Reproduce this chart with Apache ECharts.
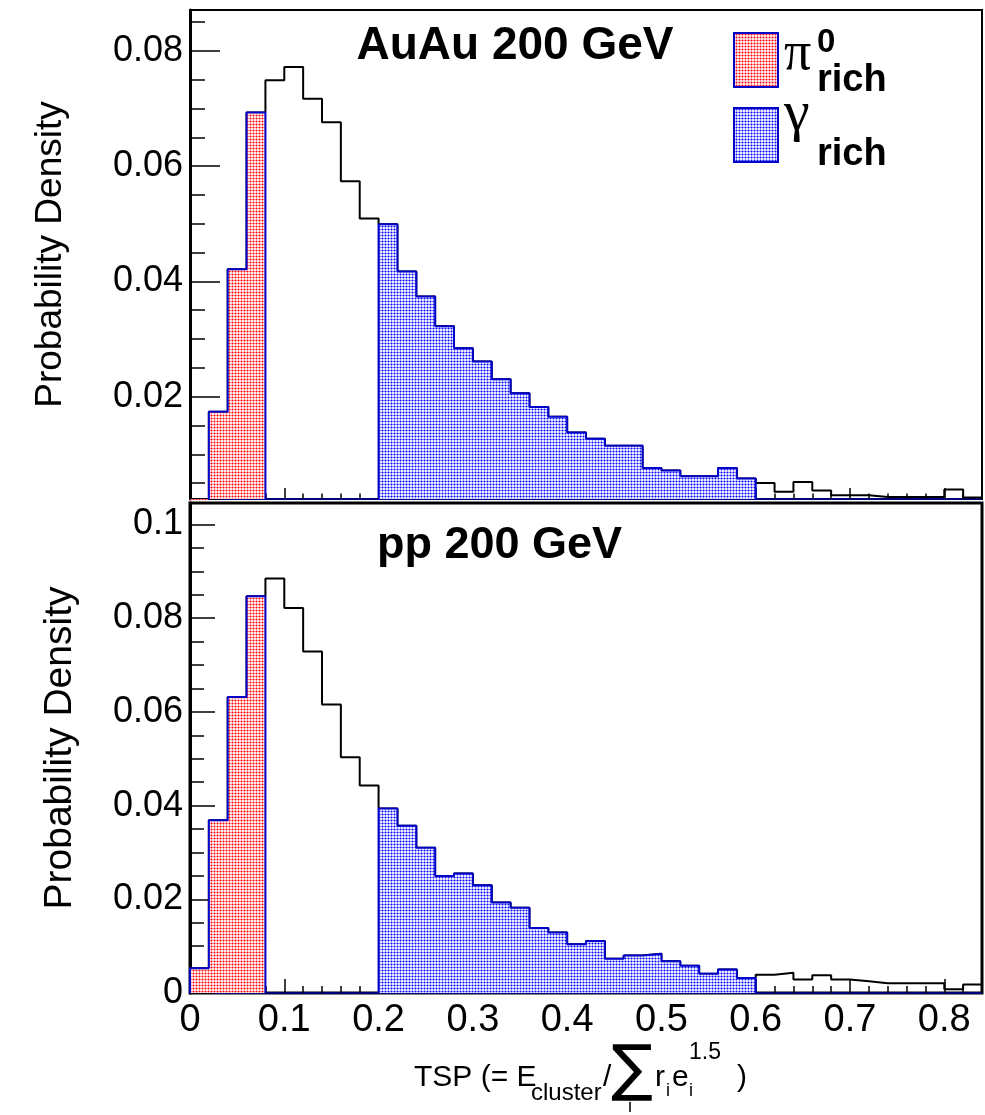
<!DOCTYPE html>
<html>
<head>
<meta charset="utf-8">
<style>
html, body { margin: 0; padding: 0; background: #fff; }
#main { width: 985px; height: 1115px; }
</style>
<script src="https://cdn.jsdelivr.net/npm/echarts@6.0.0/dist/echarts.min.js"></script>
</head>
<body>
<div id="main"></div>
<script>
// TSP histograms, 0.02 wide bins from 0 to 0.84
var binWidth = 0.02;
var binLow = [0, 0.02, 0.04, 0.06, 0.08, 0.10, 0.12, 0.14, 0.16, 0.18,
	0.20, 0.22, 0.24, 0.26, 0.28, 0.30, 0.32, 0.34, 0.36, 0.38,
	0.40, 0.42, 0.44, 0.46, 0.48, 0.50, 0.52, 0.54, 0.56, 0.58,
	0.60, 0.62, 0.64, 0.66, 0.68, 0.70, 0.72, 0.74, 0.76, 0.78,
	0.80, 0.82];
var auau = [0, 0.0174, 0.0421, 0.0693, 0.0749, 0.0772, 0.0717, 0.0676, 0.0574, 0.0509,
	0.0499, 0.0417, 0.0374, 0.0322, 0.0284, 0.0261, 0.0230, 0.0206, 0.0182, 0.0165,
	0.0138, 0.0127, 0.0115, 0.0115, 0.0076, 0.0072, 0.0062, 0.0062, 0.0076, 0.0058,
	0.0050, 0.0035, 0.0052, 0.0037, 0.0029, 0.0029, 0.0026, 0.0026, 0.0026, 0.0026,
	0.0039, 0.0025];
var pp = [0.0053, 0.0369, 0.0632, 0.0847, 0.0885, 0.0822, 0.0729, 0.0616, 0.0503, 0.0443,
	0.0394, 0.0357, 0.0310, 0.0250, 0.0255, 0.0230, 0.0193, 0.0182, 0.0139, 0.0129,
	0.0104, 0.0111, 0.0073, 0.0080, 0.0084, 0.0068, 0.0058, 0.0041, 0.0050, 0.0032,
	0.0039, 0.0043, 0.0029, 0.0038, 0.0029, 0.0025, 0.0021, 0.0021, 0.0021, 0.0021,
	0.0008, 0.0018];
var pi0Bins = [0, 3];     // first and last bin of the pi0-rich cut
var gammaBins = [10, 29]; // first and last bin of the gamma-rich cut
var xTicks = [0, 0.1, 0.2, 0.3, 0.4, 0.5, 0.6, 0.7, 0.8];
var yTicksTop = [0.02, 0.04, 0.06, 0.08];
var yTicksBottom = [0, 0.02, 0.04, 0.06, 0.08, 0.1];

var FONT = 'Liberation Sans';
var BLUE = '#0000c8';

function dots(color) {
	var c = document.createElement('canvas');
	c.width = 3;
	c.height = 3;
	var g = c.getContext('2d');
	g.fillStyle = '#fff';
	g.fillRect(0, 0, 3, 3);
	g.fillStyle = color;
	g.beginPath();
	g.arc(1.5, 1.5, 1.05, 0, Math.PI * 2);
	g.fill();
	return { image: c, repeat: 'repeat' };
}

// outline of bins lo..hi as step points, closed down to zero
function steps(vals, lo, hi) {
	var pts = [[binLow[lo], 0]];
	for (var k = lo; k <= hi; k++) pts.push([binLow[k], vals[k]]);
	pts.push([binLow[hi] + binWidth, vals[hi]]);
	pts.push([binLow[hi] + binWidth, 0]);
	return pts;
}

function tickLabel(list) {
	return function (v) {
		for (var i = 0; i < list.length; i++) {
			if (Math.abs(list[i] - v) < 1e-6) return String(list[i]);
		}
		return '';
	};
}

function hist(idx, data, color, fill, z) {
	var s = {
		type: 'line', xAxisIndex: idx, yAxisIndex: idx,
		data: data, step: 'end', symbol: 'none', showSymbol: false,
		lineStyle: { color: color, width: 2 },
		z: z, silent: true, animation: false
	};
	if (fill) s.areaStyle = { color: fill, opacity: 1, origin: 'start' };
	return s;
}

function xAxis(idx, showLabel, tickLen) {
	return {
		gridIndex: idx, type: 'value', min: 0, max: 0.84, interval: 0.1,
		axisLine: { show: true, onZero: false, lineStyle: { color: '#00007a', width: 2 } },
		axisTick: { inside: true, length: tickLen, lineStyle: { color: '#000', width: 1.5 } },
		minorTick: { show: true, splitNumber: 5, length: tickLen / 2, lineStyle: { color: '#000', width: 1.5 } },
		splitLine: { show: false },
		axisLabel: {
			show: showLabel, color: '#000', fontFamily: FONT, fontSize: 38, margin: 9,
			formatter: tickLabel(xTicks)
		}
	};
}

function yAxis(idx, min, max, ticks, tickLen, minorLen, nameSize, nameGap) {
	return {
		gridIndex: idx, type: 'value', min: min, max: max, splitNumber: 5,
		name: 'Probability Density', nameLocation: 'middle', nameGap: nameGap,
		nameTextStyle: { color: '#000', fontFamily: FONT, fontSize: nameSize },
		axisLine: { show: true, onZero: false, lineStyle: { color: '#000', width: 3 } },
		axisTick: { inside: true, length: tickLen, lineStyle: { color: '#000', width: 1.5 } },
		minorTick: { show: true, splitNumber: 4, length: minorLen, lineStyle: { color: '#000', width: 1.5 } },
		splitLine: { show: false },
		axisLabel: {
			color: '#000', fontFamily: FONT, fontSize: 36, margin: 7,
			formatter: tickLabel(ticks)
		}
	};
}

var redFill = dots('#ff0000');
var blueFill = dots('#0000ff');

function txt(text, x, y, size, opt) {
	opt = opt || {};
	return {
		type: 'text', silent: true, z: 50,
		style: {
			text: text, x: x, y: y, fill: '#000',
			font: (opt.bold ? 'bold ' : '') + size + 'px ' + (opt.family || FONT),
			textAlign: opt.align || 'left', textVerticalAlign: 'middle'
		}
	};
}

var myChart = echarts.init(document.getElementById('main'));
var option = {
	backgroundColor: '#fff',
	animation: false,
	grid: [
		{ left: 190, top: 10, width: 792, height: 489, show: true, borderColor: '#000', borderWidth: 2 },
		{ left: 190, top: 503, width: 792, height: 490, show: true, borderColor: '#000', borderWidth: 3 }
	],
	xAxis: [xAxis(0, false, 11), xAxis(1, true, 14)],
	yAxis: [
		yAxis(0, 0.00224, 0.0871, yTicksTop, 30, 15, 37, 121),
		yAxis(1, 0, 0.1046, yTicksBottom, 25, 14, 39, 110)
	],
	series: [
		hist(0, steps(auau, 0, auau.length - 1), '#000', null, 2),
		hist(0, steps(auau, pi0Bins[0], pi0Bins[1]), BLUE, redFill, 3),
		hist(0, steps(auau, gammaBins[0], gammaBins[1]), BLUE, blueFill, 3),
		hist(1, steps(pp, 0, pp.length - 1), '#000', null, 2),
		hist(1, steps(pp, pi0Bins[0], pi0Bins[1]), BLUE, redFill, 3),
		hist(1, steps(pp, gammaBins[0], gammaBins[1]), BLUE, blueFill, 3)
	],
	graphic: [
		txt('AuAu 200 GeV', 515, 46, 46, { bold: true, align: 'center' }),
		txt('pp 200 GeV', 377, 546, 45, { bold: true }),
		// legend
		{ type: 'rect', silent: true, z: 50, shape: { x: 734, y: 33, width: 44, height: 54 },
			style: { fill: redFill, stroke: BLUE, lineWidth: 2 } },
		{ type: 'rect', silent: true, z: 50, shape: { x: 734, y: 108, width: 44, height: 54 },
			style: { fill: blueFill, stroke: BLUE, lineWidth: 2 } },
		txt('\u03c0', 784, 55, 54, { family: 'Liberation Serif' }),
		txt('0', 817, 43, 33, { bold: true }),
		txt('rich', 817, 81, 38, { bold: true }),
		txt('\u03b3', 784, 115, 58, { family: 'Liberation Serif' }),
		txt('rich', 817, 155, 38, { bold: true }),
		// x axis title
		txt('TSP (= E', 414, 1078, 30),
		txt('cluster', 531, 1093, 24),
		txt('/', 603, 1078, 30),
		txt('\u2211', 611, 1073, 62, { family: 'DejaVu Sans' }),
		txt('i', 628, 1107, 18),
		txt('r', 655, 1078, 30),
		txt('i', 666, 1091, 18),
		txt('e', 672, 1078, 30),
		txt('i', 689, 1091, 18),
		txt('1.5', 689, 1053, 23),
		txt(')', 737, 1078, 30)
	]
};
myChart.setOption(option);
</script>
</body>
</html>
